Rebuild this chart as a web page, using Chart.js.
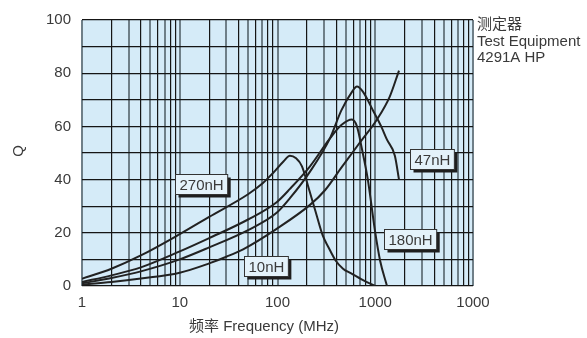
<!DOCTYPE html>
<html>
<head>
<meta charset="utf-8">
<script src="https://cdn.jsdelivr.net/npm/chart.js@4.4.1/dist/chart.umd.min.js"></script>
<style>
  html, body { margin: 0; padding: 0; background: #ffffff; }
  #wrap { width: 587px; height: 338px; }
</style>
</head>
<body>
<div id="wrap"><canvas id="c" width="587" height="338"></canvas></div>
<script>
// ---- data ----
const freqTickValues = [1, 10, 100, 1000, 10000];
const freqTickLabels = ['1', '10', '100', '1000', '1000'];
const qTickValues = [0, 20, 40, 60, 80, 100];

const seriesNames = ['270nH', '180nH', '47nH', '10nH'];

const f270 = [1, 2, 4, 10, 20, 50, 70, 90, 115, 134, 155, 178, 204, 245, 290, 333, 393, 468, 561, 750, 1000];
const q270 = [2.7, 6.5, 11.5, 19.5, 26, 34.5, 38.5, 42.5, 46.8, 49, 48, 45, 38, 28, 19, 14.5, 9.6, 6.5, 4.8, 2.2, 0];

const f180 = [1, 2, 4, 10, 20, 50, 98, 134, 215, 344, 450, 578, 650, 731, 840, 994, 1120, 1318];
const q180 = [1.5, 4, 7, 13, 18, 25, 31.5, 36.5, 45, 55.5, 60.5, 62.6, 60, 51.5, 40, 20.7, 9.6, 0];

const f47 = [1, 2, 4, 10, 20, 50, 98, 134, 215, 344, 450, 578, 650, 750, 948, 1150, 1318, 1587, 1750];
const q47 = [1, 3, 5.5, 10, 14.5, 21, 27.5, 33, 43, 55.5, 66, 73, 75, 73, 66, 60, 55, 49, 40];

const f10 = [1, 2, 4, 10, 20, 30, 44.5, 98, 215, 306, 450, 698, 1042, 1400, 1750];
const q10 = [0.5, 1.5, 2.8, 5, 8.5, 11, 13.8, 21.5, 30.5, 36, 44.5, 54, 62.6, 71, 81];

// label boxes: centre of each box, in data units
const boxLabels = ['270nH', '180nH', '47nH', '10nH'];
const boxFreq = [16.5, 2270, 3800, 76];
const boxQ = [38.5, 17.6, 47.8, 7.6];

const sideNote = ['测定器', 'Test Equipment', '4291A HP'];
const xTitle = '频率 Frequency (MHz)';
const yTitle = 'Q';

// ---- helpers ----
const FONT = '"Liberation Sans", Arial, "Noto Sans CJK SC", sans-serif';
const TEXT = '#3a3a3a';
function pts(fs, qs) { return fs.map((f, i) => ({ x: f, y: qs[i] })); }

const minorTicks = [];
for (let d = 1; d < 10000; d *= 10) {
  for (let m = 1; m <= 9; m++) minorTicks.push(m * d);
}
minorTicks.push(10000);
function mantissa(v) {
  return Math.round(v / Math.pow(10, Math.floor(Math.log10(v) + 1e-9)));
}
function isGray(v) { const m = mantissa(v); return m === 1 || m === 3 || m === 5 || m === 7; }

const bgPlugin = {
  id: 'bg',
  beforeDraw(chart) {
    const { ctx, chartArea: a } = chart;
    ctx.save();
    ctx.fillStyle = '#d5ebf8';
    ctx.fillRect(a.left, a.top, a.right - a.left, a.bottom - a.top);
    ctx.restore();
  }
};

const decoPlugin = {
  id: 'deco',
  afterDatasetsDraw(chart) {
    const { ctx, scales } = chart;
    const xs = scales.x, ys = scales.y;
    ctx.save();
    ctx.font = '15px ' + FONT;
    ctx.textBaseline = 'middle';
    ctx.textAlign = 'center';
    boxLabels.forEach((t, i) => {
      const cx = xs.getPixelForValue(boxFreq[i]);
      const cy = ys.getPixelForValue(boxQ[i]);
      const w = ctx.measureText(t).width + 8;
      const h = 20;
      const x0 = Math.round(cx - w / 2) + 0.5, y0 = Math.round(cy - h / 2) + 0.5;
      ctx.fillStyle = '#1e1e1e';
      ctx.fillRect(x0 + 3, y0 + 3, w, h);
      ctx.fillStyle = '#e4f2fa';
      ctx.fillRect(x0, y0, w, h);
      ctx.strokeStyle = '#333';
      ctx.lineWidth = 1;
      ctx.strokeRect(x0, y0, w, h);
      ctx.fillStyle = TEXT;
      ctx.fillText(t, x0 + w / 2, y0 + h / 2 + 1);
    });
    // side note
    ctx.textAlign = 'left';
    const sy = [25, 42, 58];
    sideNote.forEach((t, i) => {
      ctx.fillStyle = TEXT;
      ctx.fillText(t, 477, sy[i]);
    });
    // axis titles
    ctx.textAlign = 'center';
    ctx.fillText(xTitle, 264, 327);
    ctx.save();
    ctx.translate(19, 151);
    ctx.rotate(-Math.PI / 2);
    ctx.fillText(yTitle, 0, 0);
    ctx.restore();
    ctx.restore();
  }
};

const mk = (name, fs, qs) => ({
  label: name,
  data: pts(fs, qs),
  borderColor: '#222222',
  borderWidth: 2,
  pointRadius: 0,
  fill: false,
  cubicInterpolationMode: 'monotone'
});

new Chart(document.getElementById('c'), {
  type: 'line',
  data: {
    datasets: [
      mk(seriesNames[0], f270, q270),
      mk(seriesNames[1], f180, q180),
      mk(seriesNames[2], f47, q47),
      mk(seriesNames[3], f10, q10)
    ]
  },
  options: {
    responsive: false,
    devicePixelRatio: 1,
    animation: false,
    layout: { padding: { top: 16, right: 114, left: 0, bottom: 0 } },
    plugins: { legend: { display: false }, tooltip: { enabled: false } },
    scales: {
      x: {
        type: 'logarithmic',
        min: 1,
        max: 10000,
        afterBuildTicks(s) { s.ticks = minorTicks.map(v => ({ value: v })); },
        afterFit(s) { s.height = 52; },
        border: { display: false },
        grid: {
          drawTicks: false,
          color: c => isGray(c.tick.value) ? '#6f7f88' : '#151515',
          lineWidth: c => isGray(c.tick.value) ? 2 : 1.2
        },
        ticks: {
          autoSkip: false,
          maxRotation: 0,
          padding: 8,
          color: TEXT,
          font: { family: FONT, size: 15 },
          callback(v) {
            const i = freqTickValues.findIndex(t => Math.abs(t - v) < 1e-6 * t);
            return i >= 0 ? freqTickLabels[i] : '';
          }
        }
      },
      y: {
        min: 0,
        max: 100,
        afterBuildTicks(s) {
          const t = [];
          for (let v = 0; v <= 100; v += 10) t.push({ value: v });
          s.ticks = t;
        },
        afterFit(s) { s.width = 82; },
        border: { display: false },
        grid: { drawTicks: false, color: '#151515', lineWidth: 1.2 },
        ticks: {
          padding: 11,
          color: TEXT,
          font: { family: FONT, size: 15 },
          callback(v) { return qTickValues.includes(v) ? String(v) : ''; }
        }
      }
    }
  },
  plugins: [bgPlugin, decoPlugin]
});
</script>
</body>
</html>
